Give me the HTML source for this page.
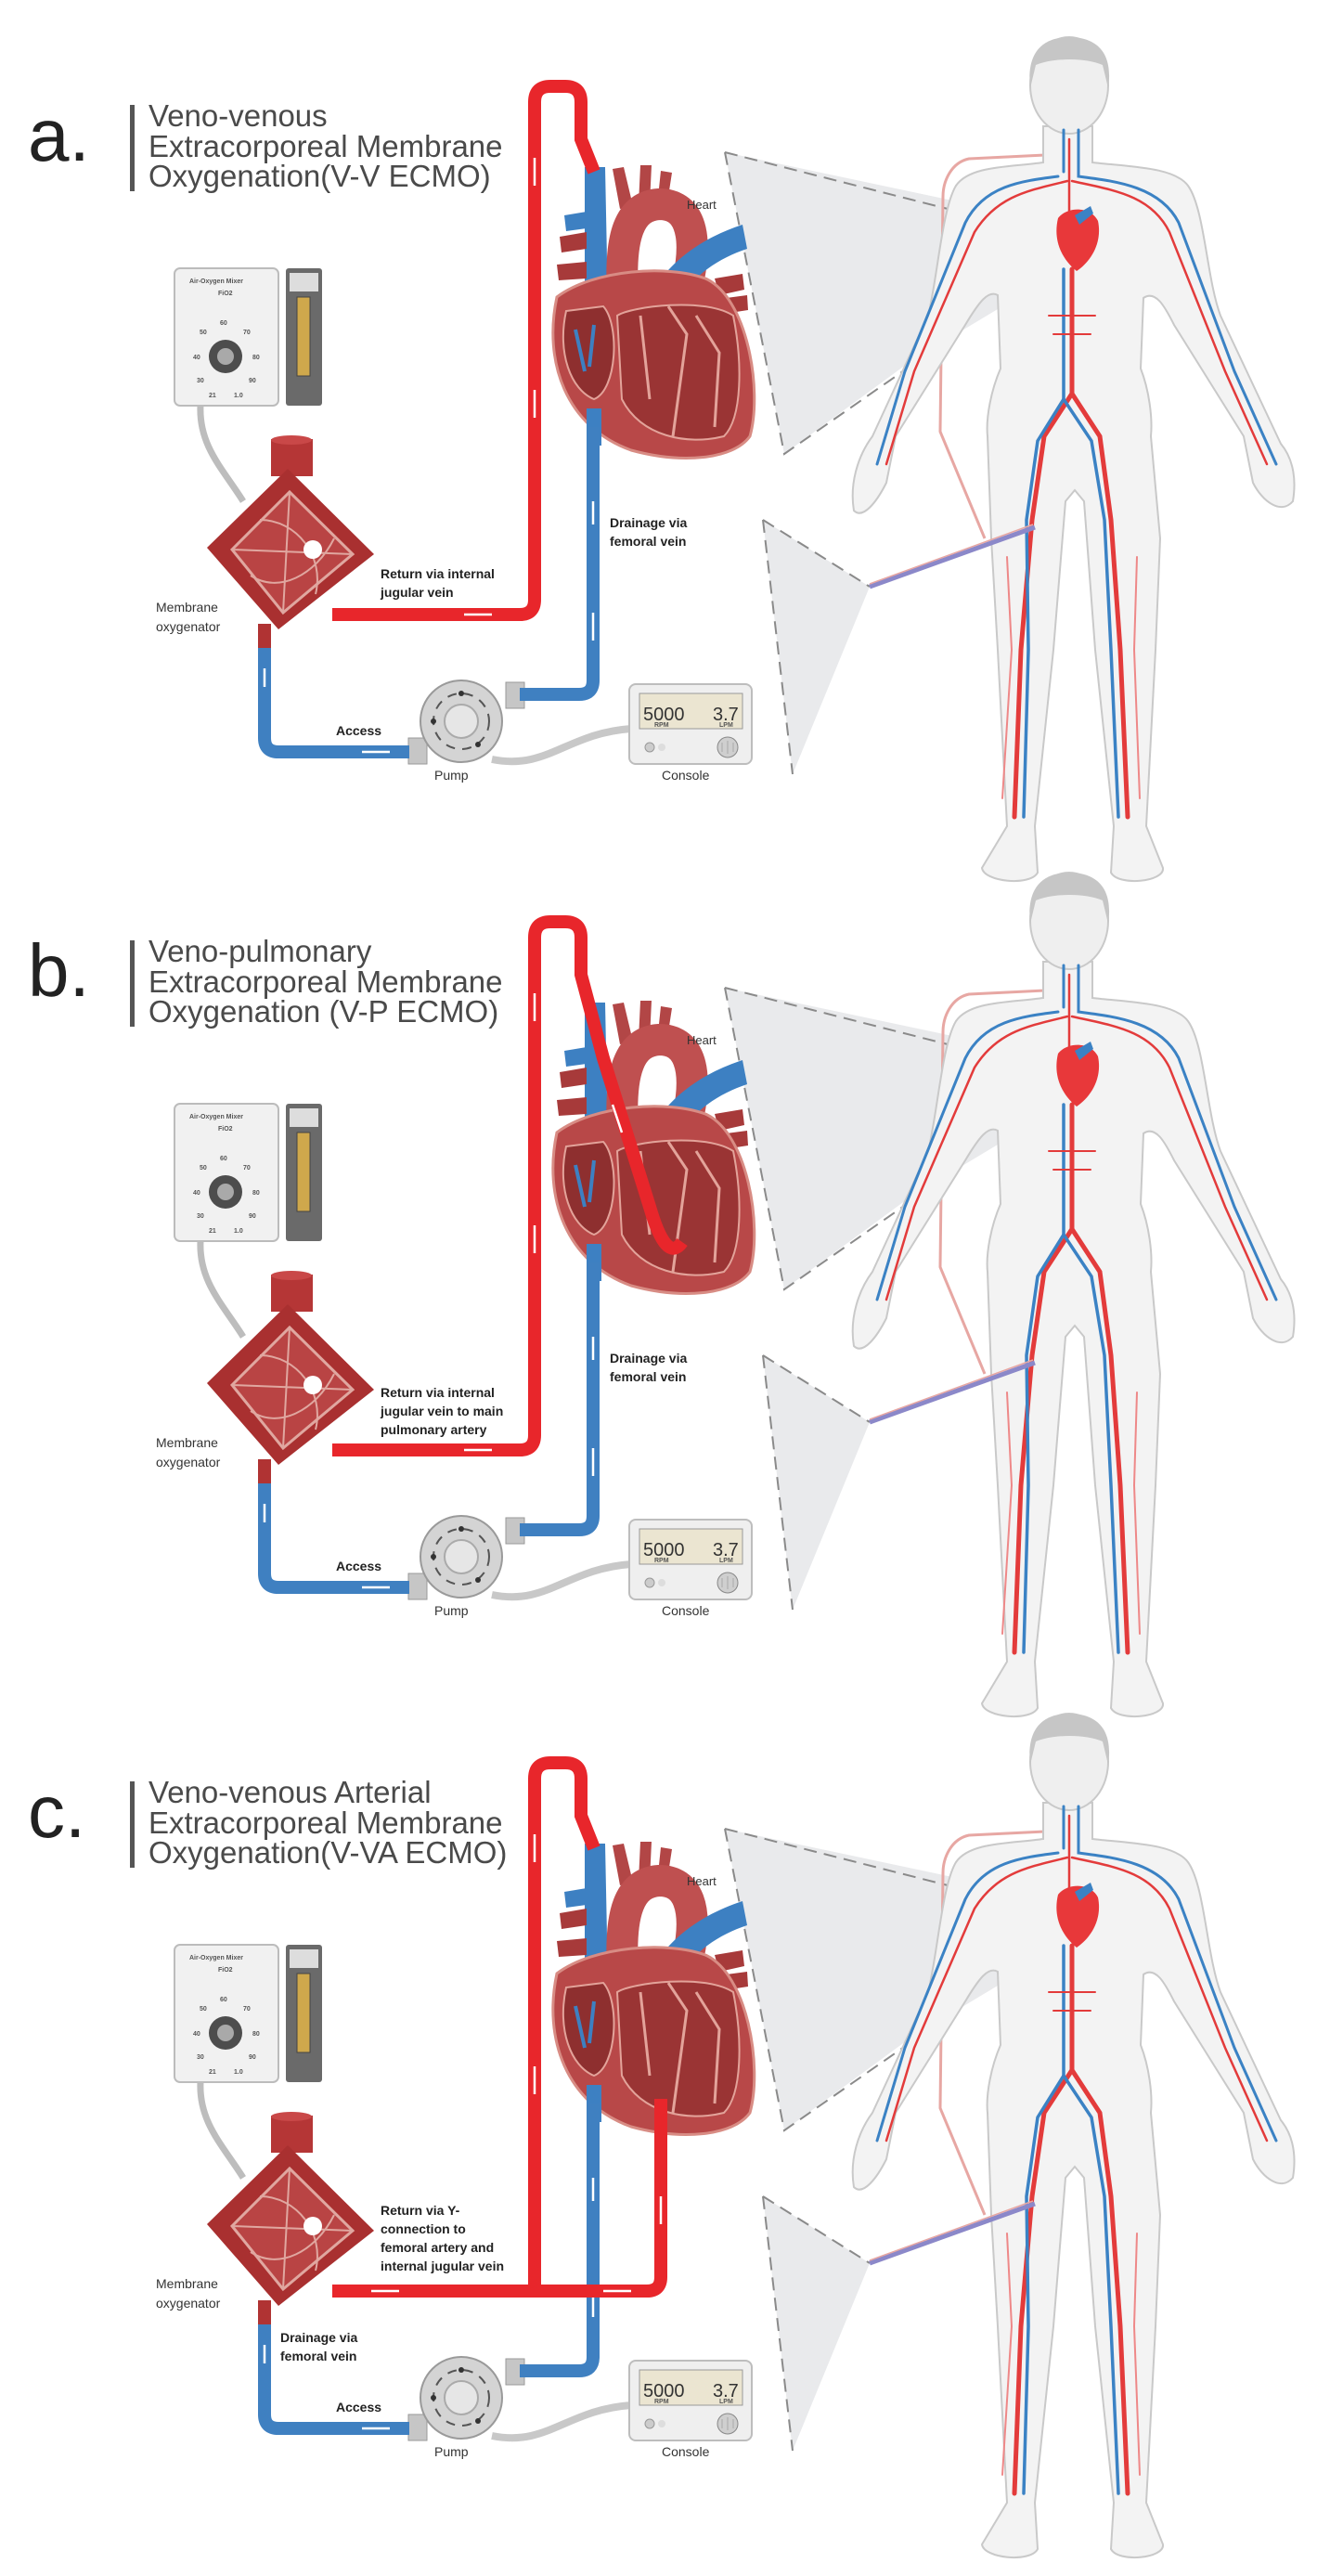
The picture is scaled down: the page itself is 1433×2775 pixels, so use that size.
<!DOCTYPE html>
<html><head><meta charset="utf-8"><style>
html,body{margin:0;padding:0;background:#fff;}
svg{display:block;}
text{font-family:"Liberation Sans",sans-serif;}
.t{font-size:33px;fill:#4a4a4a;}
.L{font-size:80px;fill:#222;}
.b{font-size:14px;font-weight:bold;fill:#222;}
.n{font-size:14px;fill:#333;}
.s{font-size:7px;fill:#555;font-weight:bold;}
</style></head><body>
<svg width="1433" height="2775" viewBox="0 0 1433 2775" xmlns="http://www.w3.org/2000/svg">
<defs>
<g id="body">
 <path d="M1124,136 L1124,175 C1090,180 1045,178 1030,200 C1015,225 1010,300 1000,340 L940,470 C925,490 915,520 920,550 C930,560 945,540 955,520 L965,470 L1040,350 C1055,325 1065,312 1075,318 L1078,397 C1068,420 1062,450 1064,470 L1068,580 L1075,700 L1085,890 L1058,935 C1060,950 1110,955 1118,940 L1115,890 L1135,700 L1148,540 L1158,528 L1168,540 L1180,700 L1200,890 L1197,940 C1205,955 1255,950 1253,935 L1235,890 L1245,700 L1250,580 L1240,470 C1242,450 1238,420 1229,397 L1232,321 C1245,312 1255,330 1265,350 L1340,470 L1350,520 C1360,540 1380,555 1393,540 C1398,510 1390,490 1380,478 L1315,340 C1300,300 1298,225 1280,200 C1265,180 1220,180 1177,175 L1177,136 Z" fill="#f3f3f3" stroke="#c9c9c9" stroke-width="2"/>
 <ellipse cx="1152" cy="92" rx="42" ry="52" fill="#efefef" stroke="#c9c9c9" stroke-width="2"/>
 <path d="M1110,95 C1105,50 1130,40 1152,40 C1180,40 1200,55 1194,95 L1188,70 C1170,62 1135,62 1116,70 Z" fill="#c6c6c6"/>
 <g fill="none" stroke-linecap="round">
  <path d="M1146,140 L1146,185 M1140,190 C1100,195 1060,200 1040,240 L975,400 L945,500" stroke="#3b82c4" stroke-width="3"/>
  <path d="M1162,140 L1162,190 C1200,195 1250,200 1270,240 L1330,400 L1375,500" stroke="#3b82c4" stroke-width="3"/>
  <path d="M1152,150 L1152,230 M1150,195 C1110,205 1075,210 1050,250 L985,400 L955,500" stroke="#e33b3b" stroke-width="2.5"/>
  <path d="M1155,195 C1200,205 1240,210 1260,250 L1320,400 L1365,500" stroke="#e33b3b" stroke-width="2.5"/>
  <path d="M1155,290 L1155,424 L1125,470 L1112,560 L1100,700 L1093,880" stroke="#e33b3b" stroke-width="5"/>
  <path d="M1155,424 L1185,470 L1197,560 L1207,700 L1215,880" stroke="#e33b3b" stroke-width="5"/>
  <path d="M1146,290 L1146,430 L1118,475 L1106,560 L1108,700 L1103,880" stroke="#3b82c4" stroke-width="3.5"/>
  <path d="M1146,430 L1176,475 L1190,560 L1197,700 L1205,880" stroke="#3b82c4" stroke-width="3.5"/>
  <path d="M1130,340 L1180,340 M1135,360 L1175,360" stroke="#e33b3b" stroke-width="2"/>
  <path d="M1085,600 L1090,700 L1080,860 M1225,600 L1222,700 L1228,860" stroke="#e88" stroke-width="2"/>
 </g>
 <path d="M1140,235 C1150,222 1175,222 1183,238 C1188,262 1175,282 1160,292 C1145,280 1134,260 1140,235 Z" fill="#e8383a"/>
 <path d="M1158,232 L1175,222 L1178,230 L1163,242 Z" fill="#3b82c4"/>
</g>
<g id="heart">
 <path d="M630,180 L652,180 L655,330 L630,330 Z" fill="#3d80c2"/>
 <path d="M603,255 L632,250 L632,268 L605,272 Z M600,285 L632,282 L632,300 L602,302 Z" fill="#a73a3a"/>
 <path d="M608,232 L632,228 L632,246 L610,249 Z" fill="#3d80c2"/>
 <path d="M668,225 L660,182 L672,180 L682,222 Z M688,220 L690,178 L702,178 L700,220 Z M708,222 L712,184 L724,186 L718,225 Z" fill="#b24646"/>
 <path d="M672,330 C665,250 680,222 710,220 C742,220 752,250 742,300" fill="none" stroke="#bf5050" stroke-width="34"/>
 <path d="M700,320 C720,280 760,255 800,242 L805,268 C775,278 748,295 725,330 Z" fill="#3d80c2"/>
 <path d="M770,300 L800,295 L802,312 L775,318 Z M775,322 L805,318 L806,334 L780,338 Z" fill="#a73a3a"/>
 <path d="M600,320 C585,390 610,460 680,485 C735,500 790,495 808,470 C822,420 805,320 760,300 C720,285 640,290 600,320 Z" fill="#b84848" stroke="#d88c84" stroke-width="3"/>
 <path d="M610,335 C600,380 615,420 640,430 C665,420 668,350 650,330 Z" fill="#8e2f2f" stroke="#e3a39a" stroke-width="2"/>
 <path d="M665,340 C680,330 760,320 790,340 C800,390 800,450 780,470 C740,480 690,470 670,430 Z" fill="#9a3434" stroke="#e3a39a" stroke-width="2"/>
 <path d="M720,330 L740,360 L725,470 M750,340 L775,380 L770,460 M690,340 L700,430" stroke="#e3a39a" stroke-width="3" fill="none"/>
 <path d="M620,355 L630,400 M640,350 L635,395" stroke="#3d80c2" stroke-width="4"/>
 <path d="M632,440 L648,440 L648,480 L632,480 Z" fill="#3d80c2"/>
</g>
<g id="devices">
 <rect x="188" y="289" width="112" height="148" rx="6" fill="#f1f1f1" stroke="#bcbcbc" stroke-width="2"/>
 <text class="s" x="204" y="305">Air-Oxygen Mixer</text>
 <text class="s" x="235" y="318">FiO2</text>
 <text class="s" x="237" y="350">60</text><text class="s" x="215" y="360">50</text><text class="s" x="262" y="360">70</text>
 <text class="s" x="208" y="387">40</text><text class="s" x="272" y="387">80</text>
 <text class="s" x="212" y="412">30</text><text class="s" x="268" y="412">90</text>
 <text class="s" x="225" y="428">21</text><text class="s" x="252" y="428">1.0</text>
 <rect x="308" y="289" width="39" height="148" rx="3" fill="#6a6a6a"/>
 <rect x="312" y="294" width="31" height="20" fill="#ddd"/>
 <rect x="320" y="320" width="14" height="85" fill="#cfa84c" stroke="#444"/>
 <circle cx="243" cy="384" r="18" fill="#4d4d4d"/>
 <circle cx="243" cy="384" r="9" fill="#a9a9a9"/>
 <path d="M216,437 C214,480 240,505 262,540" stroke="#bdbdbd" stroke-width="7" fill="none"/>
 <rect x="292" y="473" width="45" height="40" fill="#b53636"/>
 <ellipse cx="314" cy="474" rx="22" ry="5" fill="#c94848"/>
 <polygon points="223,590 310,505 403,597 300,678" fill="#a93030"/>
 <polygon points="250,592 312,530 380,597 305,660" fill="#b94444" stroke="#e0a7a0" stroke-width="3"/>
 <path d="M312,530 L305,660 M250,592 L380,597 M280,560 C320,560 350,600 340,640 M270,620 C300,640 340,620 360,580" stroke="#e0a7a0" stroke-width="2" fill="none"/>
 <circle cx="337" cy="592" r="10" fill="#fff"/>
 <rect x="278" y="672" width="14" height="28" fill="#b03333"/>
 <path d="M530,818 C590,830 610,790 680,785" stroke="#c8c8c8" stroke-width="8" fill="none"/>
 <rect x="545" y="735" width="20" height="28" fill="#c6c6c6" stroke="#999"/>
 <rect x="440" y="795" width="20" height="28" fill="#c6c6c6" stroke="#999"/>
 <circle cx="497" cy="777" r="44" fill="#d4d4d4" stroke="#9a9a9a" stroke-width="2"/>
 <circle cx="497" cy="777" r="30" fill="none" stroke="#555" stroke-width="2" stroke-dasharray="10 8"/>
 <circle cx="497" cy="777" r="18" fill="#e6e6e6" stroke="#aaa" stroke-width="2"/>
 <circle cx="497" cy="747" r="3" fill="#333"/><circle cx="467" cy="777" r="3" fill="#333"/><circle cx="515" cy="802" r="3" fill="#333"/>
 <rect x="678" y="737" width="132" height="86" rx="7" fill="#efefef" stroke="#bdbdbd" stroke-width="2"/>
 <rect x="689" y="747" width="111" height="38" fill="#ebe5d1" stroke="#999"/>
 <text class="s" x="705" y="783">RPM</text><text class="s" x="775" y="783">LPM</text>
 <circle cx="784" cy="805" r="11" fill="#cfcfcf" stroke="#888"/>
 <path d="M778,800 L778,810 M784,798 L784,812 M790,800 L790,810" stroke="#aaa" stroke-width="1"/>
 <circle cx="700" cy="805" r="5" fill="#ccc" stroke="#999"/>
 <circle cx="713" cy="805" r="4" fill="#ddd"/>
</g>
<g id="blue">
 <path d="M639,460 L639,733 Q639,748 624,748 L560,748" fill="none" stroke="#3f80c1" stroke-width="14"/>
 <path d="M441,810 L300,810 Q285,810 285,795 L285,698" fill="none" stroke="#3f80c1" stroke-width="14"/>
 <path d="M639,540 L639,565 M639,660 L639,690 M420,810 L390,810 M285,740 L285,720" stroke="#fff" stroke-width="2.5"/>
</g>
<g id="tri">
 <polygon points="781,164 1130,238 1130,300 980,390 845,489" fill="#e9eaec"/>
 <path d="M781,164 L1025,226 M781,164 L845,489 L980,395" fill="none" stroke="#8a8a8a" stroke-width="2" stroke-dasharray="14 8"/>
 <path d="M1126,167 L1044,171 C1025,175 1016,195 1016,212 L1013,465 L1061,580" fill="none" stroke="#e7a7a3" stroke-width="3"/>
</g>
<g id="tri2">
 <polygon points="822,560 937,632 854,834" fill="#e9eaec"/>
 <path d="M822,560 L937,632 M822,560 L854,834" fill="none" stroke="#8a8a8a" stroke-width="2" stroke-dasharray="14 8"/>
 <path d="M937,632 L1115,568" stroke="#8b88c9" stroke-width="5"/>
 <path d="M937,629 L1113,565" stroke="#e7a7a3" stroke-width="1.5"/>
</g>
</defs>

<!-- PANEL A -->
<g>
 <use href="#tri"/><use href="#body"/><use href="#tri2"/>
 <use href="#devices"/><use href="#heart"/><use href="#blue"/>
 <path d="M358,662 L560,662 Q576,662 576,646 L576,110 Q576,93 593,93 L609,93 Q626,93 626,110 L626,150 L640,185" fill="none" stroke="#e8262b" stroke-width="14"/>
 <path d="M576,170 L576,200 M576,420 L576,450 M500,662 L530,662" stroke="#fff" stroke-width="2.5"/>
 <text class="L" x="30" y="173">a.</text>
 <rect x="140" y="113" width="5" height="93" fill="#555"/>
 <text class="t" x="160" y="136">Veno-venous</text>
 <text class="t" x="160" y="169">Extracorporeal  Membrane</text>
 <text class="t" x="160" y="201">Oxygenation(V-V ECMO)</text>
 <text class="n" x="740" y="225" style="font-size:13px">Heart</text>
 <text class="b" x="657" y="568">Drainage via</text>
 <text class="b" x="657" y="588">femoral vein</text>
 <text class="b" x="410" y="623">Return via internal</text>
 <text class="b" x="410" y="643">jugular vein</text>
 <text class="n" x="168" y="659">Membrane</text>
 <text class="n" x="168" y="680">oxygenator</text>
 <text class="b" x="362" y="792">Access</text>
 <text class="n" x="468" y="840">Pump</text>
 <text class="n" x="713" y="840">Console</text>
 <text x="693" y="776" style="font-size:20px;fill:#333">5000</text>
 <text x="768" y="776" style="font-size:20px;fill:#333">3.7</text>
</g>

<!-- PANEL B -->
<g transform="translate(0,900)">
 <use href="#tri"/><use href="#body"/><use href="#tri2"/>
 <use href="#devices"/><use href="#heart"/><use href="#blue"/>
 <path d="M358,662 L560,662 Q576,662 576,646 L576,110 Q576,93 593,93 L609,93 Q626,93 626,110 L626,150 L650,240 L700,400 Q718,462 735,438" fill="none" stroke="#e8262b" stroke-width="14"/>
 <path d="M576,170 L576,200 M576,420 L576,450 M500,662 L530,662 M660,290 L670,320" stroke="#fff" stroke-width="2.5"/>
 <text class="L" x="30" y="173">b.</text>
 <rect x="140" y="113" width="5" height="93" fill="#555"/>
 <text class="t" x="160" y="136">Veno-pulmonary</text>
 <text class="t" x="160" y="169">Extracorporeal Membrane</text>
 <text class="t" x="160" y="201">Oxygenation (V-P ECMO)</text>
 <text class="n" x="740" y="225" style="font-size:13px">Heart</text>
 <text class="b" x="657" y="568">Drainage via</text>
 <text class="b" x="657" y="588">femoral vein</text>
 <text class="b" x="410" y="605">Return via internal</text>
 <text class="b" x="410" y="625">jugular vein to main</text>
 <text class="b" x="410" y="645">pulmonary artery</text>
 <text class="n" x="168" y="659">Membrane</text>
 <text class="n" x="168" y="680">oxygenator</text>
 <text class="b" x="362" y="792">Access</text>
 <text class="n" x="468" y="840">Pump</text>
 <text class="n" x="713" y="840">Console</text>
 <text x="693" y="776" style="font-size:20px;fill:#333">5000</text>
 <text x="768" y="776" style="font-size:20px;fill:#333">3.7</text>
</g>

<!-- PANEL C -->
<g transform="translate(0,1806)">
 <use href="#tri"/><use href="#body"/><use href="#tri2"/>
 <use href="#devices"/><use href="#heart"/><use href="#blue"/>
 <path d="M358,662 L697,662 Q712,662 712,647 L712,455" fill="none" stroke="#e8262b" stroke-width="14"/>
 <path d="M576,662 L576,110 Q576,93 593,93 L609,93 Q626,93 626,110 L626,150 L640,185" fill="none" stroke="#e8262b" stroke-width="14"/>
 <path d="M576,170 L576,200 M576,420 L576,450 M400,662 L430,662 M650,662 L680,662 M712,560 L712,590" stroke="#fff" stroke-width="2.5"/>
 <text class="L" x="30" y="173">c.</text>
 <rect x="140" y="113" width="5" height="93" fill="#555"/>
 <text class="t" x="160" y="136">Veno-venous Arterial</text>
 <text class="t" x="160" y="169">Extracorporeal Membrane</text>
 <text class="t" x="160" y="201">Oxygenation(V-VA ECMO)</text>
 <text class="n" x="740" y="225" style="font-size:13px">Heart</text>
 <text class="b" x="410" y="580">Return via Y-</text>
 <text class="b" x="410" y="600">connection to</text>
 <text class="b" x="410" y="620">femoral artery and</text>
 <text class="b" x="410" y="640">internal jugular vein</text>
 <text class="n" x="168" y="659">Membrane</text>
 <text class="n" x="168" y="680">oxygenator</text>
 <text class="b" x="302" y="717">Drainage via</text>
 <text class="b" x="302" y="737">femoral vein</text>
 <text class="b" x="362" y="792">Access</text>
 <text class="n" x="468" y="840">Pump</text>
 <text class="n" x="713" y="840">Console</text>
 <text x="693" y="776" style="font-size:20px;fill:#333">5000</text>
 <text x="768" y="776" style="font-size:20px;fill:#333">3.7</text>
</g>
</svg>
</body></html>
